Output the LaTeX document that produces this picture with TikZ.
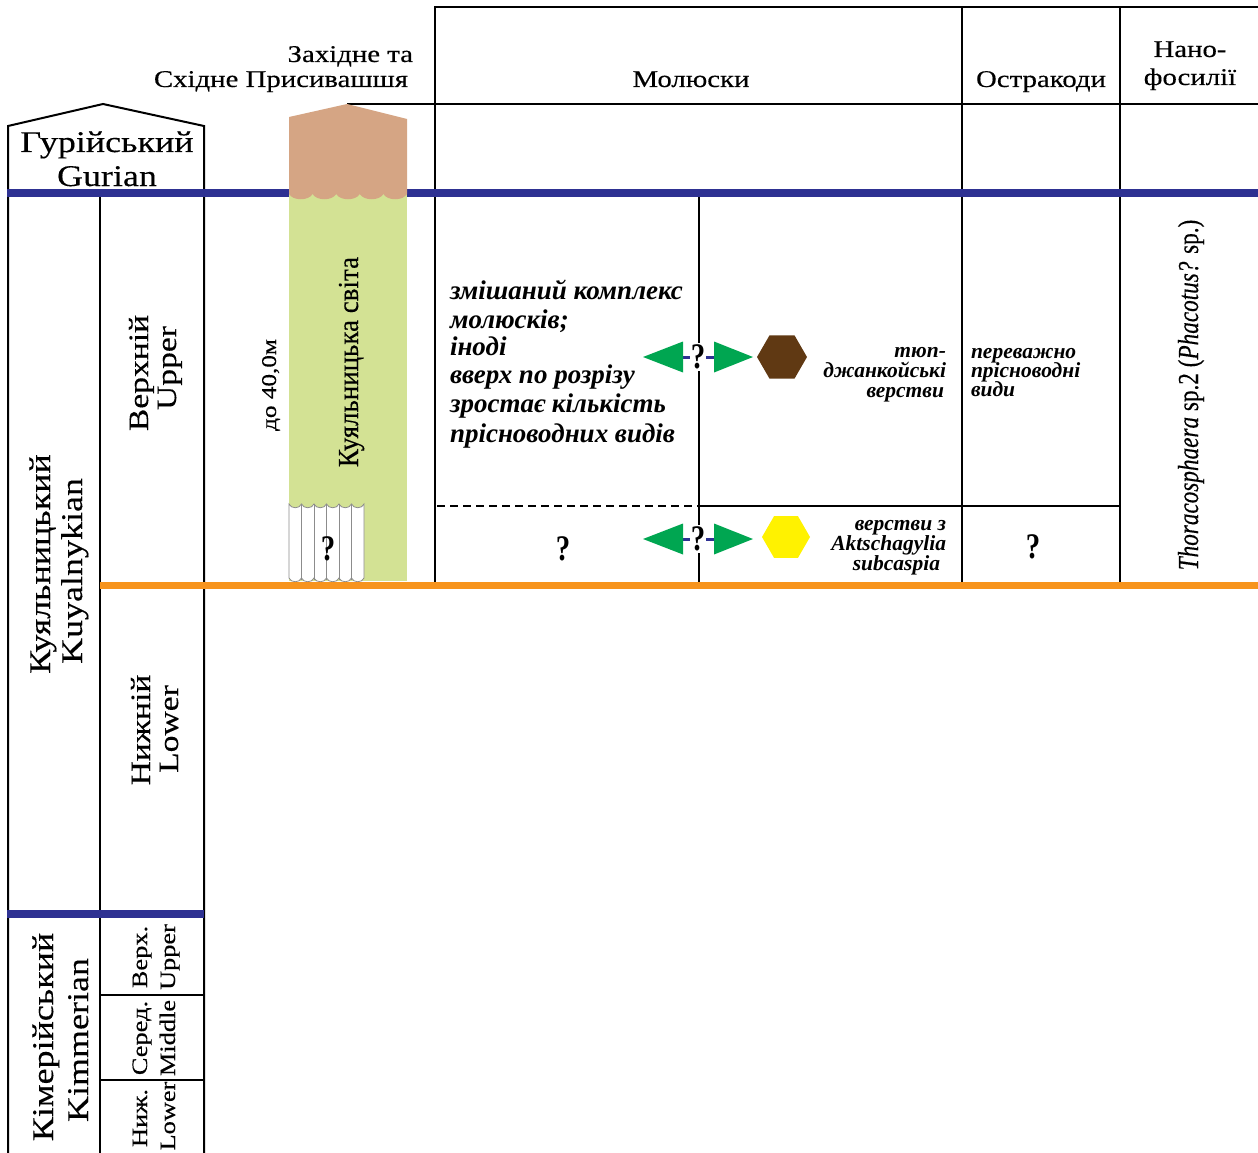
\documentclass[tikz,border=0pt]{standalone}
\usepackage{fontspec}
\setmainfont{Liberation Serif}[FakeStretch=1.2, FakeBold=0.3]
\newfontfamily\plainserif{Liberation Serif}
\newfontfamily\condserif{Liberation Serif}[FakeStretch=0.93, FakeBold=0.3]
\newfontfamily\narrowserif{Liberation Serif}[FakeStretch=0.8, FakeBold=0.3]
\newfontfamily\qfont{Liberation Serif Bold}[FakeStretch=0.8]
\usetikzlibrary{shapes.geometric,calc}

\definecolor{cBlue}{HTML}{2E3192}
\definecolor{cOrange}{HTML}{F7941D}
\definecolor{cRockBrown}{HTML}{D5A584}
\definecolor{cRockGreen}{HTML}{D3E294}
\definecolor{cHexBrown}{HTML}{603913}
\definecolor{cHexYellow}{HTML}{FFF200}
\definecolor{cArrow}{HTML}{00A651}

\tikzset{
  rule/.style={line width=2pt, black},
  dashrule/.style={line width=1.8pt, black, dash pattern=on 8pt off 5pt},
  blueband/.style={line width=8pt, cBlue},
  orangeband/.style={line width=7pt, cOrange},
  lbl/.style={inner sep=0pt, outer sep=0pt},
  hdr/.style={lbl, font=\fontsize{24}{28}\selectfont},
  stage/.style={lbl, font=\fontsize{30}{33}\selectfont},
  substage/.style={lbl, font=\fontsize{28}{30}\selectfont},
  minor/.style={lbl, font=\fontsize{22}{24}\selectfont},
  vert/.style={rotate=90, anchor=base},
  bigital/.style={lbl, anchor=base west, font=\plainserif\bfseries\itshape\fontsize{27}{29}\selectfont},
  smallital/.style={lbl, font=\plainserif\bfseries\itshape\fontsize{21.5}{23}\selectfont},
  qmark/.style={inner sep=1.5pt, font=\qfont\fontsize{36}{36}\selectfont},
  hexagon/.style={regular polygon, regular polygon sides=6, inner sep=0pt, draw=none},
  hatchline/.style={line width=0.8pt, draw=black!45},
}

\begin{document}
\begin{tikzpicture}[x=1pt, y=-1pt]
\useasboundingbox (0,0) rectangle (1258,1153);

% ---------- table rules ----------
% stage column frame with the roofed top cell
\draw[rule] (8,1153) -- (8,126) -- (103,104) -- (204,126) -- (204,1153);
\draw[rule] (100,197) -- (100,1153);
\draw[rule] (100,995) -- (204,995);
\draw[rule] (100,1080) -- (204,1080);
% fossil columns
\draw[rule] (435,585) -- (435,7) -- (1258,7);
\draw[rule] (347,104) -- (1258,104);
\draw[rule] (962,7) -- (962,585);
\draw[rule] (1120,7) -- (1120,585);
\draw[rule] (699,197) -- (699,585);
\draw[rule] (699,506) -- (1120,506);
\draw[dashrule] (437,506) -- (699,506);

% ---------- boundaries ----------
\draw[blueband] (7,193) -- (1258,193);
\draw[blueband] (7,914) -- (204,914);

% ---------- lithological column ----------
\fill[cRockGreen] (289,194) rectangle (407,581);
\fill[cRockBrown] (289,117) -- (347,104) -- (407,119) -- (407,194)
  foreach \i in {0,...,4} {
    .. controls ({407-23.6*\i-4},201) and ({407-23.6*(\i+1)+4},201) .. ({407-23.6*(\i+1)},194)
  } -- cycle;
% unknown interval at the base
\filldraw[hatchline, fill=white] (289,504)
  foreach \i in {0,...,5} {
    .. controls ({289+12.5*\i+2},509) and ({289+12.5*(\i+1)-2},509) .. ({289+12.5*(\i+1)},504)
  } -- (364,578)
  foreach \i in {0,...,5} {
    .. controls ({364-12.5*\i-2},583) and ({364-12.5*(\i+1)+2},583) .. ({364-12.5*(\i+1)},578)
  } -- cycle;
\foreach \i in {1,...,5} {
  \draw[hatchline] ({289+12.5*\i},504) -- ({289+12.5*\i},580);
}

\draw[orangeband] (100,585) -- (1258,585);

% ---------- headers ----------
\node[hdr, anchor=base east] (hWestA) at (413,62) {Західне та};
\node[hdr, anchor=base east] (hWestB) at (408,87) {Східне Присивашшя};
\node[hdr, anchor=base] (hMol) at (691,87) {Молюски};
\node[hdr, anchor=base] (hOst) at (1041,87) {Остракоди};
\node[hdr, anchor=base] (hNanoA) at (1190,57) {Нано-};
\node[hdr, anchor=base] (hNanoB) at (1190,85) {фосилії};

% ---------- stratigraphic scale ----------
\node[stage, anchor=base] (gurA) at (107,152) {Гурійський};
\node[stage, anchor=base] (gurB) at (107,186) {Gurian};

\node[stage, vert] (kuyA) at (50,564) {Куяльницький};
\node[stage, vert] (kuyB) at (82,571) {Kuyalnykian};
\node[stage, vert] (kimA) at (53,1037) {Кімерійський};
\node[stage, vert] (kimB) at (88,1040) {Kimmerian};

\node[substage, vert] (upA) at (148,373) {Верхній};
\node[substage, vert] (upB) at (176,368) {Upper};
\node[substage, vert] (loA) at (150,730) {Нижній};
\node[substage, vert] (loB) at (178,729) {Lower};

\node[minor, vert] (kUpA) at (147,957) {Верх.};
\node[minor, vert] (kUpB) at (175,957) {Upper};
\node[minor, vert] (kMiA) at (147,1038) {Серед.};
\node[minor, vert] (kMiB) at (175,1038) {Middle};
\node[minor, vert] (kLoA) at (147,1118) {Ниж.};
\node[minor, vert] (kLoB) at (175,1116) {Lower};

% ---------- column labels ----------
\node[lbl, vert, font=\fontsize{21}{24}\selectfont] (thick) at (276,385) {до 40,0м};
\node[lbl, vert, font=\condserif\fontsize{29}{32}\selectfont] (suite) at (358,362) {Куяльницька світа};
\node[qmark] (qCol) at (328,549) {?};

% ---------- molluscs ----------
\node[bigital] (molA) at (450,299) {змішаний комплекс};
\node[bigital] (molB) at (450,328) {молюсків;};
\node[bigital] (molC) at (450,355) {іноді};
\node[bigital] (molD) at (450,383) {вверх по розрізу};
\node[bigital] (molE) at (450,412) {зростає кількість};
\node[bigital] (molF) at (450,442) {прісноводних видів};
\node[qmark] (qMol) at (563,549) {?};

% correlation marks
\coordinate (mA) at (698,357);
\coordinate (mB) at (698,539);
\foreach \m in {mA,mB} {
  \draw[cBlue, line width=3pt] ($(\m)+(-15,0)$) -- ($(\m)+(16,0)$);
  \fill[cArrow] ($(\m)+(-15,-15.5)$) -- ($(\m)+(-15,15.5)$) -- ($(\m)+(-55,0)$) -- cycle;
  \fill[cArrow] ($(\m)+(16,-15.5)$) -- ($(\m)+(16,15.5)$) -- ($(\m)+(55,0)$) -- cycle;
}
\node[qmark, fill=white, inner xsep=1pt] (qA) at (mA) {?};
\node[qmark, fill=white, inner xsep=1pt] (qB) at (mB) {?};

\node[hexagon, fill=cHexBrown, minimum size=50pt] (hexA) at (782,357) {};
\node[hexagon, fill=cHexYellow, minimum size=48pt] (hexB) at (786,537) {};

\node[smallital, anchor=base east] (tjA) at (946,357) {тюп-};
\node[smallital, anchor=base east] (tjB) at (946,377) {джанкойські};
\node[smallital, anchor=base east] (tjC) at (944,397) {верстви};

\node[smallital, anchor=base east] (akA) at (946,530) {верстви з};
\node[smallital, anchor=base east] (akB) at (946,550) {Aktschagylia};
\node[smallital, anchor=base east] (akC) at (940,570) {subcaspia};

% ---------- ostracods ----------
\node[smallital, anchor=base west] (ostA) at (971,358) {переважно};
\node[smallital, anchor=base west] (ostB) at (971,377) {прісноводні};
\node[smallital, anchor=base west] (ostC) at (971,396) {види};
\node[qmark] (qOst) at (1033,547) {?};

% ---------- nannofossils ----------
\node[lbl, vert, font=\narrowserif\fontsize{29}{32}\selectfont] (nano) at (1198,395)
  {\itshape Thoracosphaera\/\upshape{} sp.2 (\itshape Phacotus?\/\upshape{} sp.)};

\end{tikzpicture}
\end{document}
